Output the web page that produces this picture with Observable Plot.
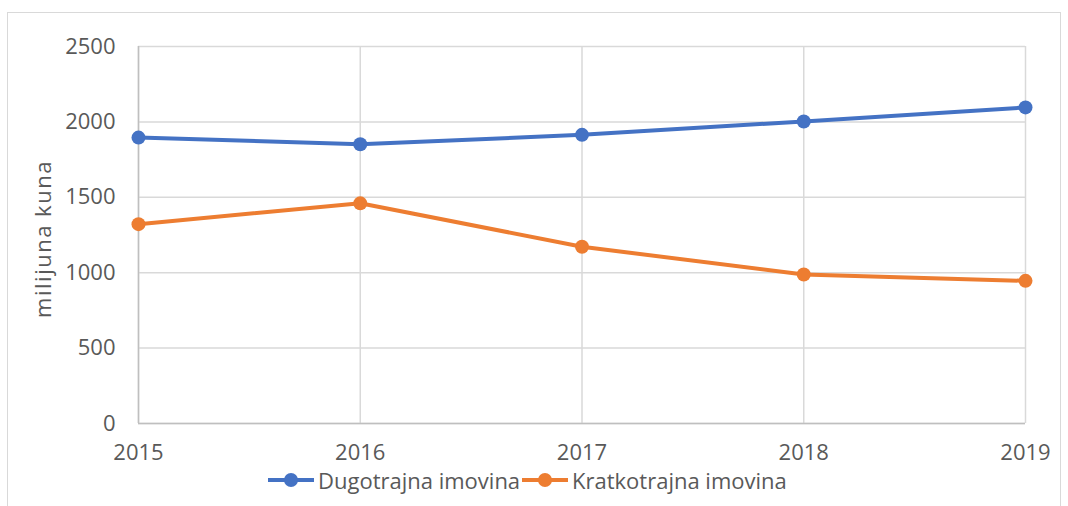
<!DOCTYPE html>
<html>
<head>
<meta charset="utf-8">
<script src="https://cdn.jsdelivr.net/npm/d3@7"></script>
<script src="https://cdn.jsdelivr.net/npm/@observablehq/plot@0.6"></script>
<style>
  html, body { margin: 0; padding: 0; background: #fff; }
  #wrap { position: relative; width: 1068px; height: 506px; overflow: hidden; font-family: "Open Sans", sans-serif; }
  #frame { position: absolute; left: 7px; top: 12px; width: 1054px; height: 520px; border: 1px solid #d9d9d9; box-sizing: border-box; }
  #chart { position: absolute; left: 0; top: 0; }
  #chart svg text { font-size: 22px; }
  #chart svg .ylab text { font-size: 22px; letter-spacing: 1.5px; }
  #legend { position: absolute; left: 0; top: 470px; width: 1068px; height: 20px; z-index: 2; }
  .item { position: absolute; top: 0; height: 20px; line-height: 20px; display: flex; align-items: center; font-size: 22px; color: #595959; }
  .sw { position: relative; width: 46px; height: 20px; margin-right: 4px; }
  .sw .ln { position: absolute; left: 0; right: 0; top: 8px; height: 4px; }
  .sw .dt { position: absolute; left: 16px; top: 3px; width: 14px; height: 14px; border-radius: 50%; }
</style>
</head>
<body>
<div id="wrap">
  <div id="frame"></div>
  <div id="chart"></div>
  <div id="legend"></div>
</div>
<script>
const years = [2015, 2016, 2017, 2018, 2019];
const seriesNames = ["Dugotrajna imovina", "Kratkotrajna imovina"];
const dugotrajna = [1896, 1852, 1914, 2003, 2096];
const kratkotrajna = [1322, 1460, 1172, 988, 946];
const yTicks = [0, 500, 1000, 1500, 2000, 2500];
const colors = ["#4472C4", "#ED7D31"];
const yLabel = "milijuna kuna";

const data = [];
years.forEach((y, i) => {
  data.push({year: y, value: dugotrajna[i], series: seriesNames[0]});
  data.push({year: y, value: kratkotrajna[i], series: seriesNames[1]});
});

const chart = Plot.plot({
  width: 1068,
  height: 470,
  marginLeft: 138,
  marginRight: 43,
  marginTop: 46,
  marginBottom: 47,
  style: { fontFamily: "'Open Sans', sans-serif", fontSize: "22px", color: "#595959", background: "transparent", overflow: "visible" },
  x: { domain: [2015, 2019], ticks: years, tickFormat: "d", label: null },
  y: { domain: [0, 2500], ticks: yTicks, tickFormat: "d", label: null },
  color: { domain: seriesNames, range: colors },
  marks: [
    Plot.gridY(yTicks, { stroke: "#d9d9d9", strokeOpacity: 1, strokeWidth: 1.5 }),
    Plot.gridX(years, { stroke: "#d9d9d9", strokeOpacity: 1, strokeWidth: 1.5 }),
    Plot.ruleX([2015], { stroke: "#bfbfbf", strokeWidth: 1.5 }),
    Plot.ruleY([0], { stroke: "#bfbfbf", strokeWidth: 1.5 }),
    Plot.axisY(yTicks, { tickSize: 0, tickPadding: 23, fill: "#595959", tickFormat: "d", label: null }),
    Plot.axisX(years, { tickSize: 0, tickPadding: 21, fill: "#595959", tickFormat: "d", label: null }),
    Plot.lineY(data, { x: "year", y: "value", stroke: "series", strokeWidth: 4 }),
    Plot.dot(data, { x: "year", y: "value", fill: "series", r: 7 }),
    Plot.text([yLabel], { frameAnchor: "left", dx: -95, dy: 4, rotate: -90, textAnchor: "middle", fill: "#595959", className: "ylab" })
  ]
});
document.getElementById("chart").appendChild(chart);

const legend = document.getElementById("legend");
const lefts = [268, 522];
seriesNames.forEach((name, i) => {
  const it = document.createElement("div");
  it.className = "item";
  it.style.left = lefts[i] + "px";
  it.innerHTML = `<div class="sw"><div class="ln" style="background:${colors[i]}"></div><div class="dt" style="background:${colors[i]}"></div></div><span>${name}</span>`;
  legend.appendChild(it);
});
</script>
</body>
</html>
